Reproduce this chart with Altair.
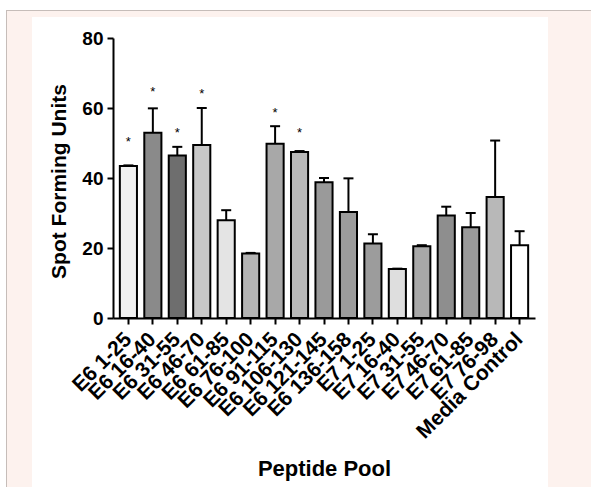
import altair as alt
import pandas as pd

# ---------------- data ----------------
pools = ["E6 1-25", "E6 16-40", "E6 31-55", "E6 46-70", "E6 61-85", "E6 76-100",
         "E6 91-115", "E6 106-130", "E6 121-145", "E6 136-158", "E7 1-25",
         "E7 16-40", "E7 31-55", "E7 46-70", "E7 61-85", "E7 76-98", "Media Control"]
sfu = [43.4, 52.9, 46.4, 49.4, 27.9, 18.4, 49.8, 47.4, 38.8, 30.3, 21.3,
       14.0, 20.5, 29.3, 25.9, 34.6, 20.8]
sem = [0.2, 7.0, 2.5, 10.6, 2.9, 0.2, 5.0, 0.3, 1.2, 9.6, 2.6,
       0.1, 0.3, 2.5, 4.1, 16.1, 4.0]
star_pools = ["E6 1-25", "E6 16-40", "E6 31-55", "E6 46-70", "E6 91-115", "E6 106-130"]
star_y = [51.6, 65.9, 54.4, 65.4, 60.1, 54.4]
y_ticks = [0, 20, 40, 60, 80]

# styles (grey tones approximating each hatch pattern)
tones = ["#f1f1f1", "#8a8a8a", "#6e6e6e", "#c8c8c8", "#e4e4e4", "#b4b4b4",
         "#a8a8a8", "#b8b8b8", "#9a9a9a", "#9c9c9c", "#9c9c9c",
         "#dedede", "#a8a8a8", "#8e8e8e", "#9a9a9a", "#b8b8b8", "#ffffff"]

df = pd.DataFrame({"pool": pools, "sfu": sfu, "sem": sem})
df["top"] = df["sfu"] + df["sem"]
stars = pd.DataFrame({"pool": star_pools, "y": star_y})

FONT = "Liberation Sans"
one = alt.Data(values=[{"a": 1}])

x_enc = alt.X(
    "pool:N", sort=pools,
    scale=alt.Scale(domain=pools, paddingInner=0.3, paddingOuter=0.28),
    axis=alt.Axis(title="Peptide Pool", labelAngle=-45, labelAlign="right",
                  labelBaseline="middle", labelPadding=12, labelOverlap=False,
                  labelFontSize=21, labelBound=False, zindex=1,
                  titleFontSize=22,
                  titleX=211, titleY=150, titleBaseline="middle", titleAlign="center"),
)
y_enc = alt.Y(
    "sfu:Q", scale=alt.Scale(domain=[0, 80]),
    axis=alt.Axis(values=y_ticks, title="Spot Forming Units", grid=False, zindex=1,
                  labelFontSize=19, labelPadding=4,
                  titleFontSize=21,
                  titleX=-54, titleY=143, titleAngle=270,
                  titleAlign="center", titleBaseline="middle"),
)

# ---------------- decoration ----------------
pink = alt.Chart(one).mark_rect(color="#fdf2ee").encode(
    x=alt.value(-106), x2=alt.value(478), y=alt.value(-27), y2=alt.value(449))
top_line = alt.Chart(one).mark_rule(color="#c6bdb9", strokeWidth=1).encode(
    x=alt.value(-107), x2=alt.value(478), y=alt.value(-27.5))
left_line = alt.Chart(one).mark_rule(color="#c6bdb9", strokeWidth=1).encode(
    x=alt.value(-106.5), y=alt.value(-28), y2=alt.value(449))
panel = alt.Chart(one).mark_rect(color="#ffffff").encode(
    x=alt.value(-81), x2=alt.value(435), y=alt.value(-21), y2=alt.value(449))

# ---------------- marks ----------------
base = alt.Chart(df)
bars = base.mark_bar(stroke="black", strokeWidth=2).encode(
    x=x_enc, y=y_enc,
    color=alt.Color("pool:N", scale=alt.Scale(domain=pools, range=tones), legend=None),
)
err = base.mark_rule(color="black", strokeWidth=2).encode(
    x=alt.X("pool:N", sort=pools), y="sfu:Q", y2="top:Q")
caps = base.mark_tick(color="black", thickness=2, size=10, opacity=1).encode(
    x=alt.X("pool:N", sort=pools), y="top:Q")
star_marks = alt.Chart(stars).mark_text(
    text="*", font=FONT, fontSize=13, baseline="middle", dy=5, color="black").encode(
    x=alt.X("pool:N", sort=pools), y="y:Q")

chart = alt.layer(pink, top_line, left_line, panel, bars, err, caps, star_marks).properties(
    width=422, height=280,
    padding={"left": 113, "top": 38, "right": 56, "bottom": 169},
    autosize=alt.AutoSizeParams(type="none"),
    background="#ffffff",
).configure_view(stroke=None).configure_axis(
    domainColor="black", domainWidth=2, tickColor="black", tickWidth=2, tickSize=6,
    labelFont=FONT, labelFontWeight="bold", labelColor="black",
    titleFont=FONT, titleFontWeight="bold", titleColor="black",
)

chart.save("out.html", embed_options={"renderer": "svg", "actions": False})
